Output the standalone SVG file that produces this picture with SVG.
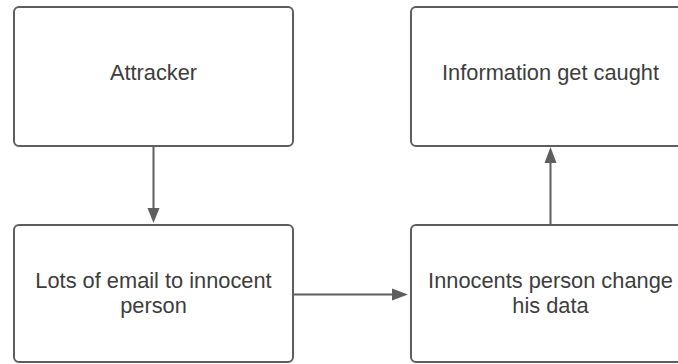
<svg xmlns="http://www.w3.org/2000/svg" width="678" height="364" viewBox="0 0 678 364">
<style>
.box{fill:#ffffff;stroke:#5e5e5e;stroke-width:2}
.lbl{font-family:"Liberation Sans",Arial,sans-serif;font-size:21.8px;fill:#3d3d3d;text-anchor:middle}
.edge{stroke:#5e5e5e;stroke-width:2;fill:none}
.head{fill:#5e5e5e}
</style>
<rect width="678" height="364" fill="#ffffff"/>
<g id="node-attracker">
<rect class="box" x="14" y="7" width="279" height="139" rx="5"/>
<text class="lbl" x="153.5" y="80">Attracker</text>
</g>
<g id="node-email">
<rect class="box" x="14" y="225" width="279" height="137" rx="5"/>
<text class="lbl" x="153.5" y="287.5">Lots of email to innocent</text>
<text class="lbl" x="153.5" y="313">person</text>
</g>
<g id="node-info">
<rect class="box" x="411" y="7" width="279" height="139" rx="5"/>
<text class="lbl" x="550.5" y="80">Information get caught</text>
</g>
<g id="node-change">
<rect class="box" x="411" y="225" width="279" height="137" rx="5"/>
<text class="lbl" x="550.5" y="287.5">Innocents person change</text>
<text class="lbl" x="550.5" y="313">his data</text>
</g>
<g id="connectors">
<line class="edge" x1="153.5" y1="147" x2="153.5" y2="210"/>
<polygon class="head" points="147.5,208 159.5,208 153.5,223"/>
<line class="edge" x1="294" y1="294.5" x2="394" y2="294.5"/>
<polygon class="head" points="392,288.5 392,300.5 408,294.5"/>
<line class="edge" x1="550.5" y1="224" x2="550.5" y2="162"/>
<polygon class="head" points="544.5,163 556.5,163 550.5,147"/>
</g>
</svg>
